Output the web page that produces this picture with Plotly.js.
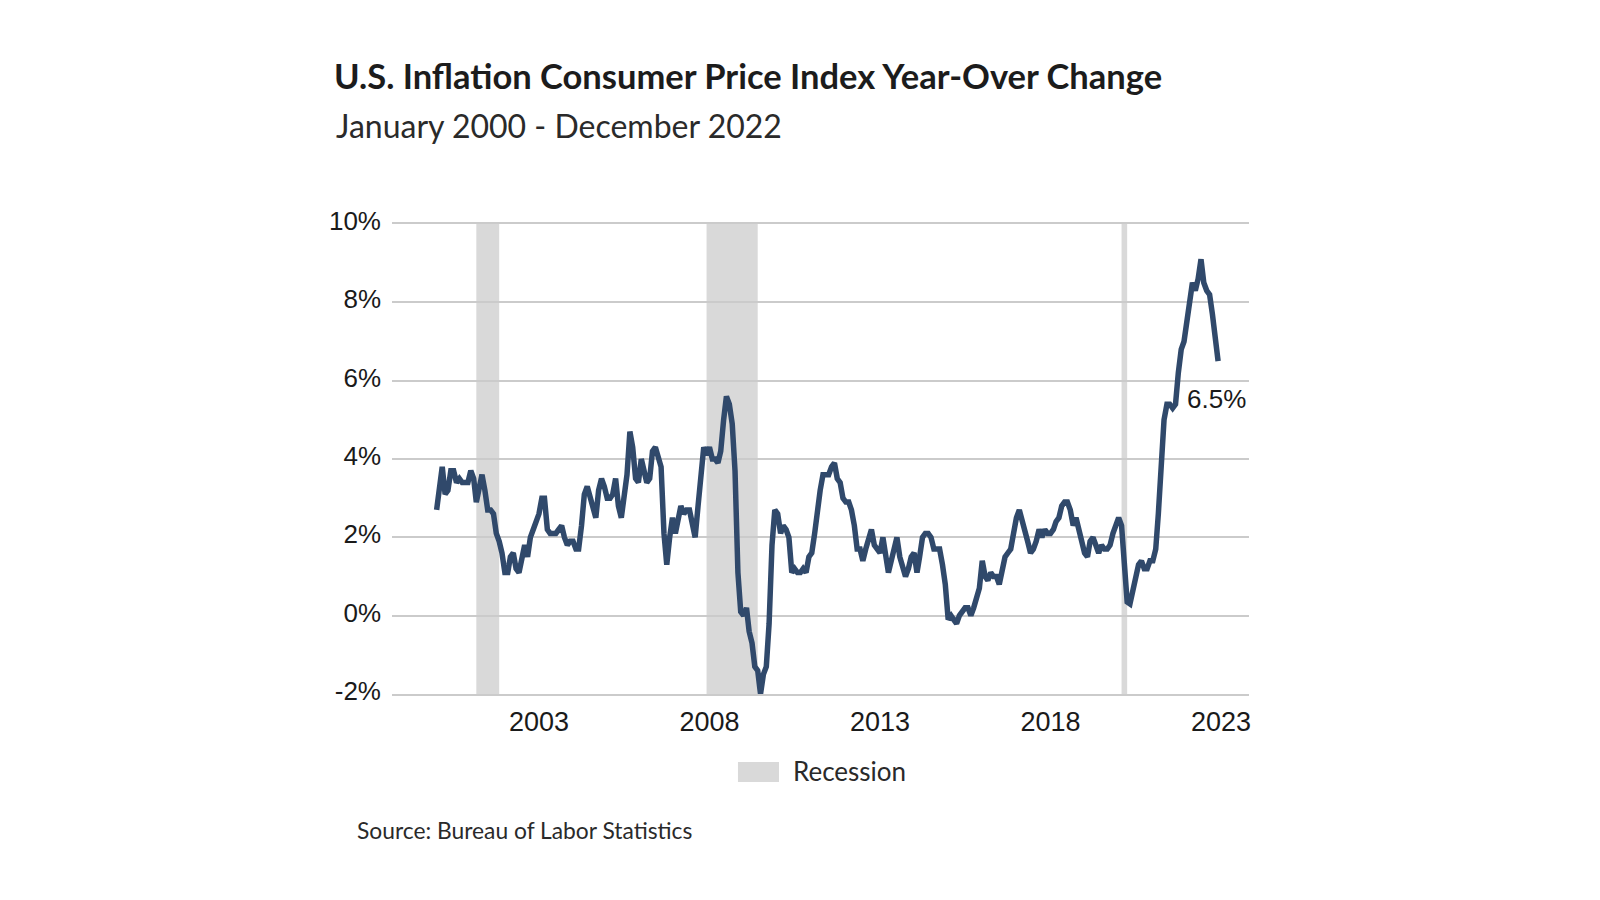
<!DOCTYPE html>
<html>
<head>
<meta charset="utf-8">
<script src="https://cdn.plot.ly/plotly-3.0.1.min.js"></script>
<style>
html,body{margin:0;padding:0;background:#ffffff;}
#chart{width:1600px;height:900px;}
</style>
</head>
<body>
<div id="chart"></div>
<script>
// CPI year-over-year change (%), monthly, Jan..Dec of each year
const cpi2000 = [2.7, 3.2, 3.8, 3.1, 3.2, 3.7, 3.7, 3.4, 3.5, 3.4, 3.4, 3.4];
const cpi2001 = [3.7, 3.5, 2.9, 3.3, 3.6, 3.2, 2.7, 2.7, 2.6, 2.1, 1.9, 1.6];
const cpi2002 = [1.1, 1.1, 1.5, 1.6, 1.2, 1.1, 1.5, 1.8, 1.5, 2.0, 2.2, 2.4];
const cpi2003 = [2.6, 3.0, 3.0, 2.2, 2.1, 2.1, 2.1, 2.2, 2.3, 2.0, 1.8, 1.9];
const cpi2004 = [1.9, 1.7, 1.7, 2.3, 3.1, 3.3, 3.0, 2.7, 2.5, 3.2, 3.5, 3.3];
const cpi2005 = [3.0, 3.0, 3.1, 3.5, 2.8, 2.5, 3.2, 3.6, 4.7, 4.3, 3.5, 3.4];
const cpi2006 = [4.0, 3.6, 3.4, 3.5, 4.2, 4.3, 4.1, 3.8, 2.1, 1.3, 2.0, 2.5];
const cpi2007 = [2.1, 2.4, 2.8, 2.6, 2.7, 2.7, 2.4, 2.0, 2.8, 3.5, 4.3, 4.1];
const cpi2008 = [4.3, 4.0, 4.0, 3.9, 4.2, 5.0, 5.6, 5.4, 4.9, 3.7, 1.1, 0.1];
const cpi2009 = [0.0, 0.2, -0.4, -0.7, -1.3, -1.4, -2.0, -1.5, -1.3, -0.2, 1.8, 2.7];
const cpi2010 = [2.6, 2.1, 2.3, 2.2, 2.0, 1.1, 1.2, 1.1, 1.1, 1.2, 1.1, 1.5];
const cpi2011 = [1.6, 2.1, 2.7, 3.2, 3.6, 3.6, 3.6, 3.8, 3.9, 3.5, 3.4, 3.0];
const cpi2012 = [2.9, 2.9, 2.7, 2.3, 1.7, 1.7, 1.4, 1.7, 2.0, 2.2, 1.8, 1.7];
const cpi2013 = [1.6, 2.0, 1.5, 1.1, 1.4, 1.8, 2.0, 1.5, 1.2, 1.0, 1.2, 1.5];
const cpi2014 = [1.6, 1.1, 1.5, 2.0, 2.1, 2.1, 2.0, 1.7, 1.7, 1.7, 1.3, 0.8];
const cpi2015 = [-0.1, 0.0, -0.1, -0.2, 0.0, 0.1, 0.2, 0.2, 0.0, 0.2, 0.5, 0.7];
const cpi2016 = [1.4, 1.0, 0.9, 1.1, 1.0, 1.0, 0.8, 1.1, 1.5, 1.6, 1.7, 2.1];
const cpi2017 = [2.5, 2.7, 2.4, 2.2, 1.9, 1.6, 1.7, 1.9, 2.2, 2.0, 2.2, 2.1];
const cpi2018 = [2.1, 2.2, 2.4, 2.5, 2.8, 2.9, 2.9, 2.7, 2.3, 2.5, 2.2, 1.9];
const cpi2019 = [1.6, 1.5, 1.9, 2.0, 1.8, 1.6, 1.8, 1.7, 1.7, 1.8, 2.1, 2.3];
const cpi2020 = [2.5, 2.3, 1.5, 0.35, 0.3, 0.65, 1.0, 1.3, 1.4, 1.2, 1.2, 1.4];
const cpi2021 = [1.4, 1.7, 2.6, 4.2, 5.0, 5.4, 5.4, 5.3, 5.4, 6.2, 6.8, 7.0];
const cpi2022 = [7.5, 7.9, 8.5, 8.3, 8.6, 9.1, 8.5, 8.3, 8.2, 7.7, 7.1, 6.5];

const years = [2000,2001,2002,2003,2004,2005,2006,2007,2008,2009,2010,2011,
               2012,2013,2014,2015,2016,2017,2018,2019,2020,2021,2022];
const yearSeries = [cpi2000,cpi2001,cpi2002,cpi2003,cpi2004,cpi2005,cpi2006,cpi2007,
                    cpi2008,cpi2009,cpi2010,cpi2011,cpi2012,cpi2013,cpi2014,cpi2015,
                    cpi2016,cpi2017,cpi2018,cpi2019,cpi2020,cpi2021,cpi2022];

const recessionStart = ['2001-03-01', '2007-12-01', '2020-02-01'];
const recessionEnd   = ['2001-11-01', '2009-06-01', '2020-04-01'];

const xTickVals = ['2003-01-01', '2008-01-01', '2013-01-01', '2018-01-01', '2023-01-01'];
const xTickText = ['2003', '2008', '2013', '2018', '2023'];
const yTickVals = [-2, 0, 2, 4, 6, 8, 10];
const yTickText = ['-2%', '0%', '2%', '4%', '6%', '8%', '10%'];

const titleText = 'U.S. Inflation Consumer Price Index Year-Over Change';
const subtitleText = 'January 2000 - December 2022';
const sourceText = 'Source: Bureau of Labor Statistics';
const legendText = 'Recession';
const lastLabel = '6.5%';

// build monthly series
const xDates = [];
const yVals = [];
years.forEach((yr, i) => {
  yearSeries[i].forEach((v, m) => {
    xDates.push(yr + '-' + String(m + 1).padStart(2, '0') + '-01');
    yVals.push(v);
  });
});

const lineColor = '#30496b';
const shadeColor = '#d9d9d9';
const gridColor = '#cbcbcb';

const shapes = recessionStart.map((s, i) => ({
  type: 'rect', xref: 'x', yref: 'y', x0: s, x1: recessionEnd[i], y0: -2, y1: 10,
  fillcolor: shadeColor, line: {width: 0}, layer: 'below'
}));
// legend swatch
shapes.push({
  type: 'rect', xref: 'paper', yref: 'paper',
  x0: 0.4037, x1: 0.4516, y0: -0.1872, y1: -0.1447,
  fillcolor: shadeColor, line: {width: 0}
});

const trace = {
  type: 'scatter', mode: 'lines', x: xDates, y: yVals,
  line: {color: lineColor, width: 5.5, shape: 'linear'},
  hoverinfo: 'skip', showlegend: false
};

const layout = {
  width: 1600, height: 900,
  paper_bgcolor: '#ffffff', plot_bgcolor: '#ffffff',
  margin: {l: 392, r: 351, t: 224, b: 206, pad: 0},
  showlegend: false,
  title: {
    text: '<b>' + titleText + '</b>',
    xref: 'container', yref: 'container',
    x: 334 / 1600, xanchor: 'left',
    y: 1 - 77 / 900, yanchor: 'middle',
    font: {family: 'Lato, "Open Sans", sans-serif', size: 34.5, color: '#1c1c1c'}
  },
  xaxis: {
    type: 'date', range: ['1998-09-10', '2023-10-28'],
    tickmode: 'array', tickvals: xTickVals, ticktext: xTickText,
    showgrid: false, zeroline: false,
    showline: true, mirror: true, linecolor: gridColor, linewidth: 2,
    ticks: '',
    ticklabelstandoff: 3,
    tickfont: {family: '"Liberation Sans", Arial, sans-serif', size: 27, color: '#1a1a1a'},
    fixedrange: true
  },
  yaxis: {
    range: [-2, 10],
    tickmode: 'array', tickvals: yTickVals, ticktext: yTickText,
    showgrid: true, gridcolor: gridColor, gridwidth: 2,
    zeroline: false, showline: false, ticks: '',
    ticklabelstandoff: 10, ticklabelshift: -3,
    tickfont: {family: '"Liberation Sans", Arial, sans-serif', size: 26, color: '#1a1a1a'},
    fixedrange: true
  },
  shapes: shapes,
  annotations: [
    {
      text: subtitleText, xref: 'paper', yref: 'paper',
      x: (334 - 392) / 857, y: (694 - 125.5) / 470,
      xanchor: 'left', yanchor: 'middle', showarrow: false,
      font: {family: 'Lato, "Open Sans", sans-serif', size: 32, color: '#2a2a2a'}
    },
    {
      text: sourceText, xref: 'paper', yref: 'paper',
      x: (355 - 392) / 857, y: (694 - 830) / 470,
      xanchor: 'left', yanchor: 'middle', showarrow: false,
      font: {family: 'Lato, "Open Sans", sans-serif', size: 22.8, color: '#2a2a2a'}
    },
    {
      text: legendText, xref: 'paper', yref: 'paper',
      x: (791 - 392) / 857, y: (694 - 771.5) / 470,
      xanchor: 'left', yanchor: 'middle', showarrow: false,
      font: {family: 'Lato, "Open Sans", sans-serif', size: 26, color: '#2a2a2a'}
    },
    {
      text: lastLabel, xref: 'x', yref: 'y',
      x: xDates[xDates.length - 1], y: yVals[yVals.length - 1],
      xanchor: 'center', yanchor: 'middle', showarrow: false,
      xshift: -2, yshift: -38,
      font: {family: '"Liberation Sans", Arial, sans-serif', size: 26, color: '#1a1a1a'}
    }
  ]
};

Plotly.newPlot('chart', [trace], layout, {displayModeBar: false, staticPlot: true});
</script>
</body>
</html>
